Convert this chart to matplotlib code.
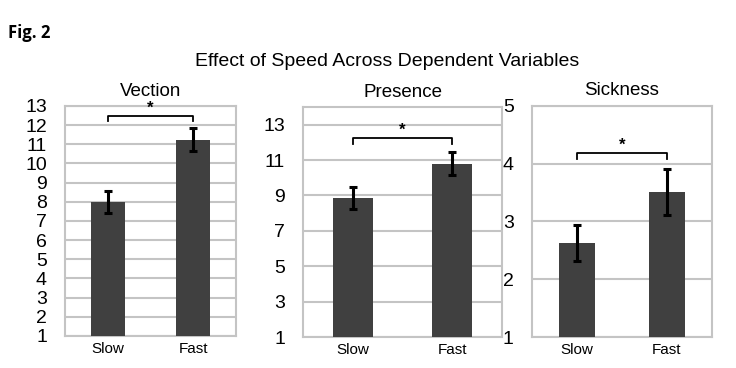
import matplotlib
matplotlib.use("Agg")
import matplotlib.pyplot as plt

categories = ["Slow", "Fast"]
panel_titles = ["Vection", "Presence", "Sickness"]
means = [[8.0, 11.25], [8.85, 10.8], [2.63, 3.51]]
errors = [[0.58, 0.6], [0.62, 0.65], [0.31, 0.4]]
ylims = [(1, 13), (1, 14), (1, 5)]
yticks = [list(range(1, 14)), [1, 3, 5, 7, 9, 11, 13], [1, 2, 3, 4, 5]]
bracket_y = [12.5, 12.25, 4.19]
bracket_drop = [0.3, 0.33, 0.11]

plt.rcParams['font.family'] = ['Liberation Sans', 'DejaVu Sans']

fig = plt.figure(figsize=(7.36, 3.68), dpi=100)
boxes = [
    [0.0883, 0.087, 0.2323, 0.625],
    [0.4117, 0.0842, 0.2704, 0.625],
    [0.7224, 0.0842, 0.2446, 0.628],
]
grid_c = "#c4c4c4"
bar_c = "#404040"
for i in range(3):
    ax = fig.add_axes(boxes[i])
    x = [0, 1]
    ax.bar(x, means[i], width=0.4, color=bar_c, zorder=3)
    ax.errorbar(x, means[i], yerr=errors[i], fmt='none', ecolor='black',
                elinewidth=2.2, capsize=3, capthick=2.2, zorder=4)
    ax.set_xlim(-0.5, 1.5)
    ax.set_ylim(*ylims[i])
    ax.set_yticks(yticks[i])
    ax.set_xticks(x)
    ax.set_xticklabels(categories, fontsize=11)
    ax.tick_params(axis='y', length=0, pad=13, labelsize=14)
    ax.tick_params(axis='x', length=0, pad=4)
    ax.yaxis.grid(True, color=grid_c, linewidth=1.5, zorder=0)
    ax.set_axisbelow(True)
    for s in ax.spines.values():
        s.set_color(grid_c)
        s.set_linewidth(1.5)
    ax.set_title(panel_titles[i], fontsize=13.5, pad=7.5)
    by = bracket_y[i]
    bd = bracket_drop[i]
    ax.plot([0, 0, 1, 1], [by - bd, by, by, by - bd], color='black', lw=1.3, zorder=5,
            clip_on=False)
    ax.text(0.5, by, "*", ha='center', va='bottom', fontsize=12, fontweight='bold')

fig.text(0.526, 0.832, "Effect of Speed Across Dependent Variables", ha='center',
         va='center', fontsize=14)
fig.text(0.011, 0.91, "Fig. 2", ha='left', va='center', fontsize=12, fontweight='bold',
         family=['Open Sans', 'DejaVu Sans'])

fig.savefig("out.png", dpi=100)
